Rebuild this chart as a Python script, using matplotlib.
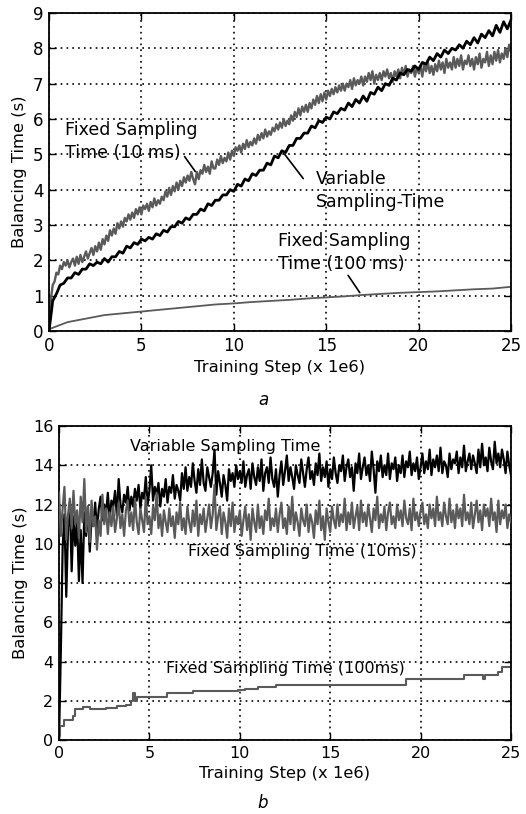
import numpy as np
import matplotlib
matplotlib.use("Agg")
from matplotlib import pyplot as plt

# ---- panel a: balancing time vs training step (x 1e6) ----
# fixed 10 ms, one sample every 0.1
a_fixed10 = [
    0.0, 0.9, 1.3, 1.4, 1.65, 1.6, 1.85, 1.75, 1.95, 1.85,
    2.0, 1.8, 1.95, 2.05, 1.85, 2.1, 1.9, 2.15, 1.95, 2.1,
    2.25, 2.05, 2.2, 2.35, 2.15, 2.4, 2.25, 2.5, 2.3, 2.6,
    2.45, 2.7, 2.55, 2.85, 2.7, 2.9, 2.75, 3.05, 2.9, 3.1,
    2.95, 3.2, 3.1, 3.3, 3.15, 3.35, 3.2, 3.45, 3.3, 3.5,
    3.3, 3.55, 3.45, 3.6, 3.4, 3.65, 3.5, 3.75, 3.55, 3.7,
    3.6, 3.8, 3.7, 3.95, 3.8, 4.05, 3.85, 4.1, 3.95, 4.2,
    4.0, 4.25, 4.1, 4.35, 4.2, 4.4, 4.25, 4.5, 4.3, 4.15,
    4.5, 4.3, 4.55, 4.45, 4.7, 4.5, 4.65, 4.45, 4.8, 4.6,
    4.6, 4.85, 4.7, 4.95, 4.75, 4.9, 4.8, 5.05, 4.85, 5.1,
    4.95, 5.2, 5.1, 5.25, 5.05, 5.3, 5.15, 5.4, 5.2, 5.35,
    5.25, 5.45, 5.3, 5.55, 5.4, 5.6, 5.45, 5.7, 5.5, 5.65,
    5.55, 5.75, 5.65, 5.85, 5.7, 5.9, 5.75, 6.0, 5.8, 5.95,
    5.85, 6.1, 5.95, 6.2, 6.05, 6.3, 6.1, 6.35, 6.2, 6.4,
    6.2, 6.45, 6.3, 6.55, 6.4, 6.65, 6.45, 6.7, 6.5, 6.75,
    6.55, 6.8, 6.65, 6.85, 6.7, 6.9, 6.75, 6.95, 6.8, 7.0,
    6.8, 7.0, 6.9, 7.1, 6.85, 7.15, 6.95, 7.1, 7.0, 7.2,
    6.95, 7.2, 7.05, 7.3, 7.1, 7.35, 7.0, 7.25, 7.1, 7.3,
    7.1, 7.35, 7.2, 7.4, 7.15, 7.3, 7.05, 7.35, 7.2, 7.4,
    7.15, 7.45, 7.25, 7.5, 7.2, 7.4, 7.3, 7.5, 7.2, 7.45,
    7.3, 7.5, 7.2, 7.55, 7.35, 7.6, 7.3, 7.5, 7.25, 7.55,
    7.35, 7.65, 7.4, 7.6, 7.3, 7.7, 7.45, 7.6, 7.4, 7.75,
    7.45, 7.7, 7.5, 7.8, 7.4, 7.65, 7.55, 7.8, 7.5, 7.7,
    7.4, 7.75, 7.55, 7.85, 7.45, 7.7, 7.6, 7.9, 7.5, 7.8,
    7.55, 7.9, 7.65, 7.95, 7.6, 7.85, 7.7, 8.0, 7.75, 8.1,
    7.9,
]
# variable sampling time, one sample every 0.2
a_variable = [
    0.0, 0.85, 1.05, 1.3, 1.35, 1.5, 1.5, 1.65, 1.6, 1.75,
    1.75, 1.9, 1.85, 1.95, 1.9, 2.05, 1.95, 2.1, 2.1, 2.25,
    2.2, 2.4, 2.35, 2.5, 2.45, 2.6, 2.55, 2.65, 2.6, 2.75,
    2.7, 2.85, 2.8, 2.95, 2.95, 3.1, 3.05, 3.2, 3.15, 3.3,
    3.3, 3.45, 3.4, 3.6, 3.55, 3.7, 3.7, 3.85, 3.85, 4.0,
    3.95, 4.15, 4.1, 4.3, 4.25, 4.45, 4.4, 4.55, 4.55, 4.75,
    4.7, 4.95, 4.9, 5.1, 5.05, 5.25, 5.25, 5.45, 5.45, 5.6,
    5.6, 5.8, 5.75, 5.95, 5.9, 6.05, 6.0, 6.2, 6.15, 6.3,
    6.25, 6.45, 6.35, 6.55, 6.45, 6.65, 6.5, 6.75, 6.7, 6.9,
    6.8, 7.0, 6.95, 7.15, 7.1, 7.3, 7.25, 7.4, 7.35, 7.5,
    7.4, 7.6, 7.55, 7.75, 7.65, 7.85, 7.75, 7.95, 7.85, 8.0,
    7.95, 8.1, 8.0, 8.2, 8.1, 8.3, 8.15, 8.4, 8.3, 8.5,
    8.35, 8.65, 8.45, 8.75, 8.55, 8.8,
]
a_fixed100_x = [0, 0.5, 1, 2, 3, 4, 5, 6, 7, 8, 9, 10, 11, 12, 13, 14, 15,
                16, 17, 18, 19, 20, 21, 22, 23, 24, 25]
a_fixed100 = [0.05, 0.15, 0.25, 0.35, 0.45, 0.5, 0.55, 0.6, 0.65, 0.7, 0.75,
              0.78, 0.82, 0.85, 0.88, 0.92, 0.95, 0.98, 1.02, 1.05, 1.08,
              1.1, 1.12, 1.15, 1.18, 1.2, 1.25]

# ---- panel b: one sample every 0.1 ----
b_variable = [
    0.0, 4.5, 9.8, 11.5, 7.3, 10.8, 12.1, 8.6, 11.4, 9.9,
    11.2, 8.1, 10.7, 8.0, 11.6, 10.4, 11.9, 9.6, 11.3, 10.9,
    12.1, 10.6, 11.8, 12.4, 11.2, 12.0, 11.5, 12.6, 11.3, 12.2,
    11.9, 12.7, 11.4, 13.3, 12.0, 11.6, 12.5, 12.1, 12.9, 11.7,
    12.4, 11.9, 12.8, 12.2, 13.0, 11.8, 12.6, 12.3, 13.4, 12.0,
    12.7, 14.0, 12.2, 12.9, 12.5, 13.1, 11.9, 12.8, 12.4, 13.3,
    12.1, 12.9, 12.6, 13.5, 12.3, 13.0, 12.7, 12.2, 13.6, 12.8,
    13.9, 12.7, 13.4, 12.9, 14.1, 13.2, 12.6, 13.8, 13.0, 14.3,
    13.1, 12.7, 13.9, 13.4, 12.9, 13.6, 14.8, 12.5, 13.7, 13.1,
    12.4, 13.5, 13.0, 12.2, 13.8, 13.2, 13.6, 12.9, 14.0, 13.3,
    13.7, 13.1, 14.2, 12.9, 13.5, 13.8, 12.8, 14.1, 13.4, 13.0,
    13.9, 13.2, 14.3, 12.7, 13.6, 13.9, 13.1, 14.4, 13.3, 12.9,
    13.8, 12.4, 13.5, 14.2, 13.0, 13.7, 14.5, 13.2, 13.9, 13.4,
    12.8, 14.0, 13.5, 13.1, 14.3, 13.6, 12.9, 13.8, 14.4, 13.3,
    13.7, 13.0, 14.1, 13.5, 14.6, 13.2, 13.9, 13.4, 14.2, 12.9,
    13.8, 13.3, 14.4, 13.6, 13.1, 14.0, 13.7, 14.5, 13.2, 13.9,
    14.3, 13.4, 13.9, 12.7, 14.1, 13.6, 14.6, 13.3, 13.9, 14.4,
    13.5, 14.0, 13.2, 14.7, 13.8, 12.6, 14.2, 13.7, 14.5, 13.4,
    14.0, 13.5, 14.6, 13.3, 14.1, 13.8, 14.4, 13.2, 14.0, 13.6,
    14.5, 13.4, 14.2, 13.9, 14.7, 13.5, 14.1, 13.7, 14.4, 13.3,
    13.9, 14.6, 13.6, 14.2, 13.8, 14.8, 13.5, 14.3, 13.9, 14.5,
    13.7, 14.9, 13.6, 14.2, 14.0, 13.4, 14.6, 13.8, 14.3, 14.1,
    14.7, 13.6, 14.4, 13.9, 15.0, 13.7, 14.2, 14.6, 13.8, 14.5,
    14.1, 13.6, 14.8, 13.9, 15.1, 14.0, 14.4, 13.7, 14.9, 14.2,
    13.8, 15.2, 14.1, 14.6, 13.9, 14.8, 14.3, 13.6, 14.7, 14.0,
    13.5,
]
b_fixed10 = [
    12.6, 10.4, 11.8, 12.9, 10.2, 11.5, 12.3, 10.8, 12.7, 11.0,
    11.7, 10.3, 12.4, 11.1, 13.3, 10.6, 11.9, 10.1, 12.2, 10.9,
    11.4, 9.7, 11.2, 10.4, 12.5, 11.0, 11.8, 10.5, 11.6, 10.9,
    11.9, 10.6, 11.3, 12.1, 10.8, 11.5, 10.4, 11.7, 12.2, 10.9,
    11.6, 10.7, 12.3, 11.1, 10.5, 11.8, 11.2, 10.6, 12.4, 11.0,
    11.4, 10.5, 11.9, 11.2, 12.6, 10.8, 11.5, 10.4, 11.7, 11.1,
    10.6, 11.8, 10.9, 11.4, 10.3, 11.6, 11.0, 12.1, 10.7, 11.3,
    10.5, 11.9, 11.1, 10.6, 11.7, 10.9, 12.2, 10.4, 11.5, 11.0,
    11.8, 10.6, 11.3, 12.0, 10.8, 11.5, 13.0, 10.7, 11.4, 11.9,
    10.5, 11.6, 11.1, 10.3, 11.8, 10.9, 12.1, 10.6, 11.4, 11.0,
    11.7, 10.4, 11.2, 11.9, 10.7, 11.5, 10.2, 11.8, 11.1, 10.6,
    12.0, 10.8, 11.4, 10.5, 11.7, 11.2, 12.3, 10.7, 11.3, 10.9,
    11.8, 10.6, 11.5, 12.1, 10.8, 11.3, 10.5, 11.9, 11.0, 12.4,
    10.7, 11.6, 11.1, 10.4, 11.8, 11.2, 10.9, 12.0, 10.6, 11.5,
    11.1, 10.3, 11.7, 11.0, 12.2, 10.7, 11.4, 10.2, 11.8, 11.1,
    10.6, 11.9, 11.2, 10.8, 12.0, 10.9, 11.5, 11.1, 12.3, 10.7,
    11.6, 11.0, 12.1, 10.8, 11.4, 11.9, 10.7, 12.2, 11.1, 11.6,
    10.9, 12.0, 11.3, 10.6, 11.8, 11.2, 12.4, 10.8, 11.5, 11.1,
    11.9, 10.7, 11.6, 12.1, 11.0, 11.4, 10.8, 12.0, 11.2, 11.7,
    10.9, 12.2, 11.3, 11.0, 11.8, 10.7, 12.3, 11.2, 11.6, 10.9,
    11.7, 12.1, 11.0, 11.5, 10.8, 12.0, 11.3, 11.8, 10.9, 12.4,
    11.2, 11.6, 10.9, 12.1, 11.4, 11.0, 12.3, 11.1, 11.7, 10.8,
    12.0, 11.3, 11.8, 10.9, 12.5, 11.2, 11.6, 11.0, 12.1, 10.8,
    11.5, 12.2, 11.1, 11.7, 10.7, 12.0, 11.4, 11.8, 10.9, 12.3,
    11.2, 11.6, 10.6, 12.2, 11.0, 11.7, 11.3, 12.0, 10.8, 11.5,
    11.1,
]
b_fixed100_x = [0, 0.05, 0.3, 0.8, 0.9, 1.3, 1.7, 2.6, 3.2, 3.7, 4.0, 4.1,
                4.2, 4.3, 6.0, 7.4, 9.9, 10.3, 11.0, 12.0, 19.2, 22.4, 23.45,
                23.55, 24.3, 24.5, 25]
b_fixed100 = [0.2, 0.7, 1.0, 1.2, 1.6, 1.7, 1.6, 1.65, 1.75, 1.8, 2.0, 2.4,
              2.0, 2.2, 2.4, 2.5, 2.55, 2.6, 2.7, 2.8, 3.1, 3.3, 3.1, 3.3,
              3.45, 3.7, 3.7]

dark = "black"
grey = "#5a5a5a"


def steps_for(vals):
    return np.linspace(0, 25, len(vals))


def style(ax, yticks, fs):
    ax.set_xlim(0, 25)
    ax.set_xticks([0, 5, 10, 15, 20, 25])
    ax.set_yticks(yticks)
    ax.set_ylim(yticks[0], yticks[-1])
    ax.grid(True, color="black", linestyle=(0, (1, 2.5)), linewidth=1.2)
    ax.tick_params(direction="in", top=True, right=True, length=5, width=1,
                   labelsize=fs, pad=4)
    for s in ax.spines.values():
        s.set_linewidth(1.3)
    ax.set_xlabel("Training Step (x 1e6)", fontsize=11.8)
    ax.set_ylabel("Balancing Time (s)", fontsize=11.8)


fig = plt.figure(figsize=(5.26, 8.14), dpi=100)

# panel a
ax1 = fig.add_axes([0.0932, 0.5934, 0.8783, 0.3907])
ax1.plot(steps_for(a_fixed10), a_fixed10, color=grey, lw=1.7, zorder=2)
ax1.plot(steps_for(a_variable), a_variable, color=dark, lw=2.0, zorder=3)
ax1.plot(a_fixed100_x, a_fixed100, color=grey, lw=1.3, zorder=2)
style(ax1, range(0, 10), 12)
ax1.text(0.87, 5.37, "Fixed Sampling\nTime (10 ms)", fontsize=12.5,
         va="center", ha="left", linespacing=1.35, zorder=1)
ax1.annotate("", xy=(8.0, 4.45), xytext=(7.25, 5.0),
             arrowprops=dict(arrowstyle="-", color="black", lw=1.2))
ax1.text(14.45, 3.97, "Variable\nSampling-Time", fontsize=12.5,
         va="center", ha="left", linespacing=1.35, zorder=1)
ax1.annotate("", xy=(12.65, 5.07), xytext=(13.85, 4.25),
             arrowprops=dict(arrowstyle="-", color="black", lw=1.2))
ax1.text(12.4, 2.21, "Fixed Sampling\nTime (100 ms)", fontsize=12.5,
         va="center", ha="left", linespacing=1.35, zorder=1)
ax1.annotate("", xy=(16.9, 1.02), xytext=(16.1, 1.64),
             arrowprops=dict(arrowstyle="-", color="black", lw=1.2))
fig.text(0.5, 0.5086, "a", fontsize=12, style="italic", ha="center", va="center")

# panel b
ax2 = fig.add_axes([0.1122, 0.0909, 0.8593, 0.3857])
ax2.plot(steps_for(b_variable), b_variable, color=dark, lw=1.6, zorder=2)
ax2.plot(steps_for(b_fixed10), b_fixed10, color=grey, lw=1.6, zorder=3)
ax2.plot(b_fixed100_x, b_fixed100, color=grey, lw=1.5, drawstyle="steps-post",
         zorder=2)
style(ax2, range(0, 17, 2), 11.5)
ax2.text(9.2, 14.95, "Variable Sampling Time", fontsize=11.5,
         ha="center", va="center", zorder=1)
ax2.text(13.47, 9.6, "Fixed Sampling Time (10ms)", fontsize=11.5,
         ha="center", va="center", zorder=1)
ax2.text(12.5, 3.62, "Fixed Sampling Time (100ms)", fontsize=11.5,
         ha="center", va="center", zorder=1)
fig.text(0.5, 0.0135, "b", fontsize=12, style="italic", ha="center", va="center")

fig.savefig("out.png", dpi=100, facecolor="white")
